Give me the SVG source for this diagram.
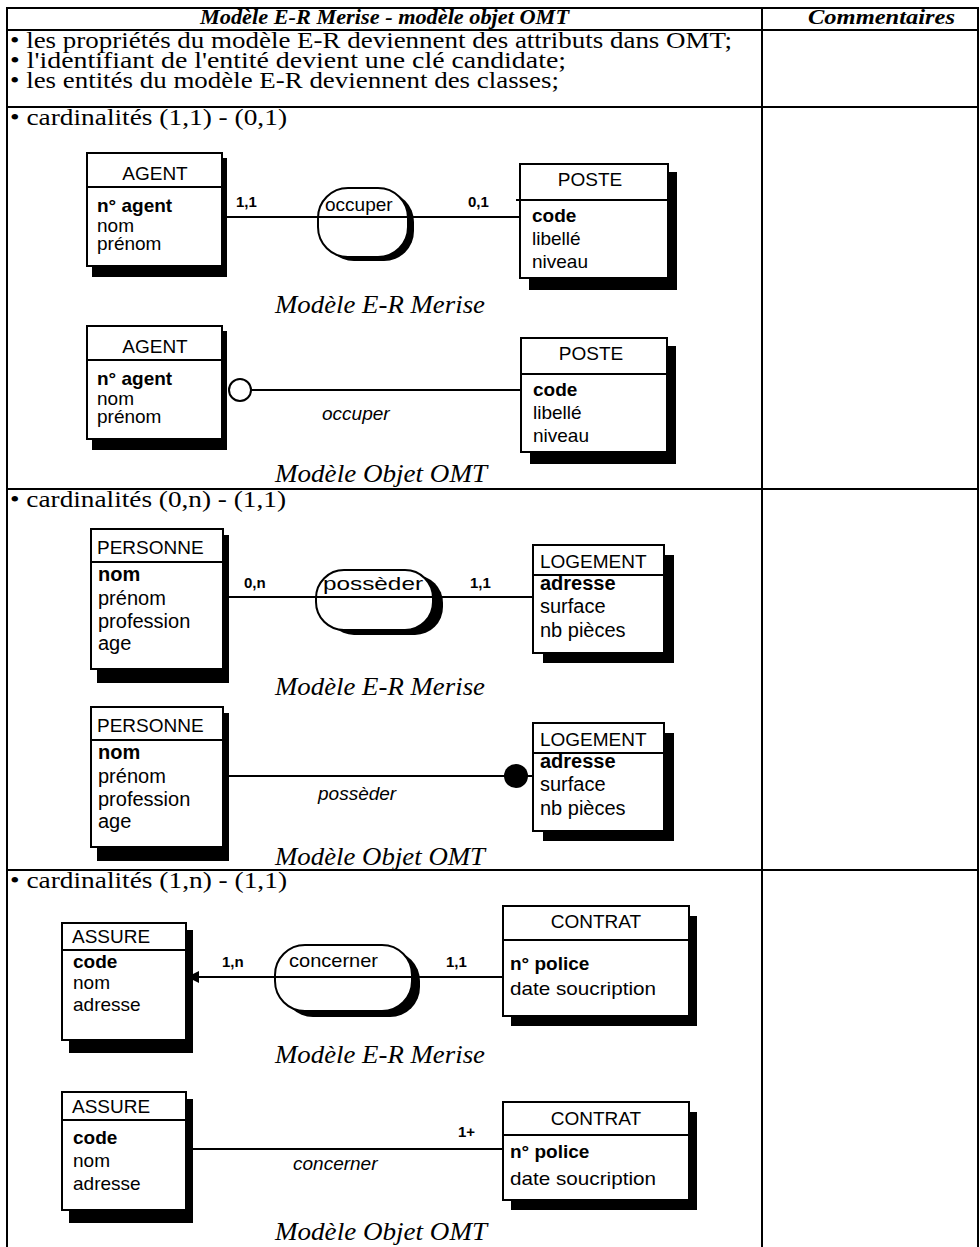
<svg xmlns="http://www.w3.org/2000/svg" width="980" height="1247" viewBox="0 0 980 1247">
<style>
  .grid { fill: none; stroke: #000; stroke-width: 2; }
  .head { font-family: "Liberation Serif", "Times New Roman", serif; font-weight: bold; font-style: italic; font-size: 21px; fill: #000; }
  .body { font-family: "Liberation Serif", "Times New Roman", serif; font-size: 23px; fill: #000; }
  .cap { font-family: "Liberation Serif", "Times New Roman", serif; font-style: italic; font-size: 26px; fill: #000; }
  .box { fill: #fff; stroke: #000; stroke-width: 2; }
  .shadow { fill: #000; }
  .sep { stroke: #000; stroke-width: 2; }
  .t { font-family: "Liberation Sans", Arial, sans-serif; font-size: 19px; fill: #000; }
  .k { font-family: "Liberation Sans", Arial, sans-serif; font-size: 19px; font-weight: bold; fill: #000; }
  .w { font-size: 20px; }
  .card { font-family: "Liberation Sans", Arial, sans-serif; font-size: 15px; font-weight: bold; fill: #000; }
  .role { font-family: "Liberation Sans", Arial, sans-serif; font-size: 19px; font-style: italic; fill: #000; }
  .link { fill: none; stroke: #000; stroke-width: 2; }
</style>
<defs>
  <marker id="arrow" markerWidth="14" markerHeight="14" refX="12" refY="6" orient="auto" markerUnits="userSpaceOnUse">
    <path d="M0,0 L12,6 L0,12 Z" fill="#000"/>
  </marker>
</defs>

<rect width="980" height="1247" fill="#fff"/>

<!-- table grid -->
<g id="table">
  <rect class="grid" x="7" y="8" width="971" height="1260"/>
  <line class="grid" x1="762" y1="8" x2="762" y2="1247"/>
  <line class="grid" x1="7" y1="30" x2="978" y2="30"/>
  <line class="grid" x1="7" y1="107" x2="978" y2="107"/>
  <line class="grid" x1="7" y1="489" x2="978" y2="489"/>
  <line class="grid" x1="7" y1="870" x2="978" y2="870"/>
</g>

<g id="table-text">
  <text class="head" x="200" y="24" textLength="369" lengthAdjust="spacingAndGlyphs">Modèle E-R Merise - modèle objet OMT</text>
  <text class="head" x="808" y="24" textLength="147" lengthAdjust="spacingAndGlyphs">Commentaires</text>
  <text class="body" x="10" y="48" textLength="722" lengthAdjust="spacingAndGlyphs">• les propriétés du modèle E-R deviennent des attributs dans OMT;</text>
  <text class="body" x="10" y="68" textLength="556" lengthAdjust="spacingAndGlyphs">• l'identifiant de l'entité devient une clé candidate;</text>
  <text class="body" x="10" y="88" textLength="549" lengthAdjust="spacingAndGlyphs">• les entités du modèle E-R deviennent des classes;</text>
  <text class="body" x="10" y="125" textLength="277" lengthAdjust="spacingAndGlyphs">• cardinalités (1,1) - (0,1)</text>
  <text class="body" x="10" y="507" textLength="276" lengthAdjust="spacingAndGlyphs">• cardinalités (0,n) - (1,1)</text>
  <text class="body" x="10" y="888" textLength="277" lengthAdjust="spacingAndGlyphs">• cardinalités (1,n) - (1,1)</text>
  <text class="cap" x="275" y="313" textLength="210" lengthAdjust="spacingAndGlyphs">Modèle E-R Merise</text>
  <text class="cap" x="275" y="482" textLength="212" lengthAdjust="spacingAndGlyphs">Modèle Objet OMT</text>
  <text class="cap" x="275" y="695" textLength="210" lengthAdjust="spacingAndGlyphs">Modèle E-R Merise</text>
  <text class="cap" x="275" y="865" textLength="210" lengthAdjust="spacingAndGlyphs">Modèle Objet OMT</text>
  <text class="cap" x="275" y="1063" textLength="210" lengthAdjust="spacingAndGlyphs">Modèle E-R Merise</text>
  <text class="cap" x="275" y="1240" textLength="212" lengthAdjust="spacingAndGlyphs">Modèle Objet OMT</text>
</g>

<!-- connectors -->
<g id="connectors">
  <line class="link" x1="222" y1="217" x2="520" y2="217"/>
  <line class="link" x1="251" y1="390" x2="521" y2="390"/>
  <line class="link" x1="223" y1="597" x2="533" y2="597"/>
  <line class="link" x1="223" y1="776" x2="533" y2="776"/>
  <line class="link" x1="503" y1="977" x2="187" y2="977" marker-end="url(#arrow)"/>
  <line class="link" x1="186" y1="1149" x2="503" y2="1149"/>
</g>

<!-- section 1 : E-R -->
<g id="agent-er">
  <rect class="shadow" x="92" y="158" width="135" height="119"/>
  <rect class="box" x="87" y="153" width="135" height="113"/>
  <line class="sep" x1="87" y1="187" x2="222" y2="187"/>
  <text class="t" x="155" y="180" text-anchor="middle">AGENT</text>
  <text class="k" x="97" y="212">n° agent</text>
  <text class="t" x="97" y="232">nom</text>
  <text class="t" x="97" y="250">prénom</text>
</g>
<g id="occuper-er">
  <rect class="shadow" x="324" y="192" width="90" height="69" rx="30"/>
  <rect class="box" x="318" y="188" width="90" height="69" rx="30"/>
  <line class="link" x1="318" y1="217" x2="408" y2="217"/>
  <text class="t" x="325" y="211">occuper</text>
</g>
<g id="poste-er">
  <rect class="shadow" x="529" y="172" width="148" height="118"/>
  <rect class="box" x="520" y="164" width="148" height="114"/>
  <line class="sep" x1="516" y1="200" x2="668" y2="200"/>
  <text class="t" x="590" y="186" text-anchor="middle">POSTE</text>
  <text class="k" x="532" y="222">code</text>
  <text class="t" x="532" y="245">libellé</text>
  <text class="t" x="532" y="268">niveau</text>
</g>
<g id="cards-1">
  <text class="card" x="236" y="207">1,1</text>
  <text class="card" x="468" y="207">0,1</text>
</g>

<!-- section 1 : OMT -->
<g id="agent-omt">
  <rect class="shadow" x="92" y="331" width="135" height="119"/>
  <rect class="box" x="87" y="326" width="135" height="113"/>
  <line class="sep" x1="87" y1="360" x2="222" y2="360"/>
  <text class="t" x="155" y="353" text-anchor="middle">AGENT</text>
  <text class="k" x="97" y="385">n° agent</text>
  <text class="t" x="97" y="405">nom</text>
  <text class="t" x="97" y="423">prénom</text>
</g>
<g id="poste-omt">
  <rect class="shadow" x="530" y="346" width="146" height="118"/>
  <rect class="box" x="521" y="338" width="146" height="114"/>
  <line class="sep" x1="521" y1="374" x2="667" y2="374"/>
  <text class="t" x="591" y="360" text-anchor="middle">POSTE</text>
  <text class="k" x="533" y="396">code</text>
  <text class="t" x="533" y="419">libellé</text>
  <text class="t" x="533" y="442">niveau</text>
</g>
<g id="occuper-omt">
  <circle cx="240" cy="390" r="11" fill="#fff" stroke="#000" stroke-width="2"/>
  <text class="role" x="322" y="420">occuper</text>
</g>

<!-- section 2 : E-R -->
<g id="personne-er">
  <rect class="shadow" x="97" y="535" width="132" height="148"/>
  <rect class="box" x="91" y="529" width="132" height="140"/>
  <line class="sep" x1="91" y1="562" x2="223" y2="562"/>
  <text class="t" x="97" y="554" font-size="17">PERSONNE</text>
  <text class="k w" x="98" y="581">nom</text>
  <text class="t w" x="98" y="605">prénom</text>
  <text class="t w" x="98" y="628">profession</text>
  <text class="t w" x="98" y="650">age</text>
</g>
<g id="posseder-er">
  <rect class="shadow" x="326" y="575" width="117" height="60" rx="28"/>
  <rect class="box" x="316" y="570" width="117" height="60" rx="28"/>
  <line class="link" x1="316" y1="597" x2="433" y2="597"/>
  <text class="t" x="323" y="590" textLength="100" lengthAdjust="spacingAndGlyphs">possèder</text>
</g>
<g id="logement-er">
  <rect class="shadow" x="543" y="555" width="131" height="108"/>
  <rect class="box" x="533" y="545" width="131" height="108"/>
  <line class="sep" x1="533" y1="575" x2="664" y2="575"/>
  <text class="t" x="540" y="568" font-size="18">LOGEMENT</text>
  <text class="k w" x="540" y="590">adresse</text>
  <text class="t w" x="540" y="613">surface</text>
  <text class="t w" x="540" y="637">nb pièces</text>
</g>
<g id="cards-2">
  <text class="card" x="244" y="588">0,n</text>
  <text class="card" x="470" y="588">1,1</text>
</g>

<!-- section 2 : OMT -->
<g id="personne-omt">
  <rect class="shadow" x="97" y="713" width="132" height="148"/>
  <rect class="box" x="91" y="707" width="132" height="140"/>
  <line class="sep" x1="91" y1="740" x2="223" y2="740"/>
  <text class="t" x="97" y="732" font-size="17">PERSONNE</text>
  <text class="k w" x="98" y="759">nom</text>
  <text class="t w" x="98" y="783">prénom</text>
  <text class="t w" x="98" y="806">profession</text>
  <text class="t w" x="98" y="828">age</text>
</g>
<g id="logement-omt">
  <rect class="shadow" x="543" y="733" width="131" height="108"/>
  <rect class="box" x="533" y="723" width="131" height="108"/>
  <line class="sep" x1="533" y1="753" x2="664" y2="753"/>
  <text class="t" x="540" y="746" font-size="18">LOGEMENT</text>
  <text class="k w" x="540" y="768">adresse</text>
  <text class="t w" x="540" y="791">surface</text>
  <text class="t w" x="540" y="815">nb pièces</text>
</g>
<g id="posseder-omt">
  <circle cx="516" cy="776" r="12" fill="#000"/>
  <text class="role" x="318" y="800">possèder</text>
</g>

<!-- section 3 : E-R -->
<g id="assure-er">
  <rect class="shadow" x="69" y="930" width="124" height="123"/>
  <rect class="box" x="62" y="923" width="124" height="117"/>
  <line class="sep" x1="62" y1="950" x2="186" y2="950"/>
  <text class="t" x="72" y="943">ASSURE</text>
  <text class="k" x="73" y="968">code</text>
  <text class="t" x="73" y="989">nom</text>
  <text class="t" x="73" y="1011">adresse</text>
</g>
<g id="concerner-er">
  <rect class="shadow" x="283" y="951" width="137" height="66" rx="30"/>
  <rect class="box" x="275" y="945" width="137" height="66" rx="30"/>
  <line class="link" x1="275" y1="977" x2="412" y2="977"/>
  <text class="t" x="289" y="967" textLength="89" lengthAdjust="spacingAndGlyphs">concerner</text>
</g>
<g id="contrat-er">
  <rect class="shadow" x="511" y="916" width="186" height="110"/>
  <rect class="box" x="503" y="906" width="186" height="110"/>
  <line class="sep" x1="503" y1="940" x2="689" y2="940"/>
  <text class="t" x="596" y="928" text-anchor="middle">CONTRAT</text>
  <text class="k" x="510" y="970">n° police</text>
  <text class="t" x="510" y="995" textLength="146" lengthAdjust="spacingAndGlyphs">date soucription</text>
</g>
<g id="cards-3">
  <text class="card" x="222" y="967">1,n</text>
  <text class="card" x="446" y="967">1,1</text>
</g>

<!-- section 3 : OMT -->
<g id="assure-omt">
  <rect class="shadow" x="69" y="1099" width="124" height="124"/>
  <rect class="box" x="62" y="1092" width="124" height="118"/>
  <line class="sep" x1="62" y1="1120" x2="186" y2="1120"/>
  <text class="t" x="72" y="1113">ASSURE</text>
  <text class="k" x="73" y="1144">code</text>
  <text class="t" x="73" y="1167">nom</text>
  <text class="t" x="73" y="1190">adresse</text>
</g>
<g id="contrat-omt">
  <rect class="shadow" x="511" y="1112" width="186" height="98"/>
  <rect class="box" x="503" y="1102" width="186" height="98"/>
  <line class="sep" x1="503" y1="1135" x2="689" y2="1135"/>
  <text class="t" x="596" y="1125" text-anchor="middle">CONTRAT</text>
  <text class="k" x="510" y="1158">n° police</text>
  <text class="t" x="510" y="1185" textLength="146" lengthAdjust="spacingAndGlyphs">date soucription</text>
</g>
<g id="concerner-omt">
  <text class="card" x="458" y="1137">1+</text>
  <text class="role" x="293" y="1170">concerner</text>
</g>
</svg>
